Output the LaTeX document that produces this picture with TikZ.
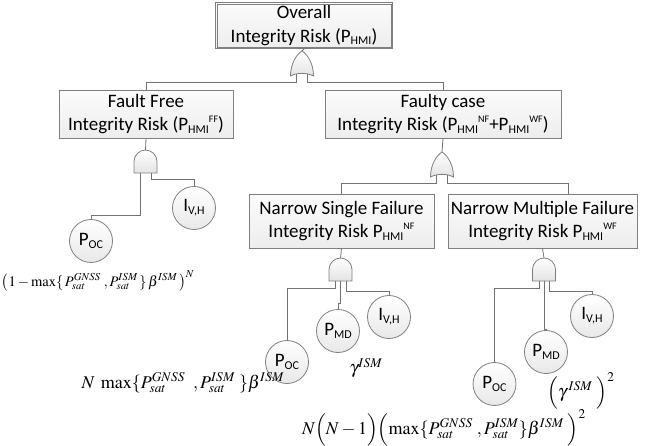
\documentclass[tikz,border=0pt]{standalone}
\usepackage{mathptmx}
\usepackage[no-math]{fontspec}
\setmainfont{Carlito}
\newcommand{\sbs}[1]{\raisebox{-0.3ex}{\fontsize{12}{12}\selectfont #1}}
\newcommand{\sps}[1]{\raisebox{0.95ex}{\fontsize{10}{10}\selectfont #1}}
\tikzset{
  gatebox/.style={draw=gray, line width=0.8pt, top color=white, bottom color=gray!22},
  andg/.pic={
    \path[gatebox] (-11.5,23) -- (-11.5,11.5) .. controls (-11.5,5) and (-6,0) .. (0,0)
      .. controls (6,0) and (11.5,5) .. (11.5,11.5) -- (11.5,23) -- cycle;
    \coordinate (-in) at (0,0);
    \coordinate (-l) at (-5,23);
    \coordinate (-m) at (0,23);
    \coordinate (-r) at (5.5,23);
  },
  org/.pic={
    \path[gatebox] (0,0) .. controls (5,3) and (11.5,12) .. (11.5,25)
      .. controls (5,21.5) and (-5,21.5) .. (-11.5,25)
      .. controls (-11.5,12) and (-5,3) .. (0,0) -- cycle;
    \coordinate (-in) at (0,0);
    \coordinate (-l) at (-5.5,22.6);
    \coordinate (-r) at (5.5,22.6);
  }
}
\begin{document}
\begin{tikzpicture}[x=1pt, y=-1pt,
  box/.style={draw=gray, line width=0.8pt, top color=gray!3, bottom color=gray!14,
    align=center, inner sep=0pt, font=\fontsize{19}{23.5}\selectfont},
  evt/.style={circle, draw=gray, line width=0.8pt, top color=white, bottom color=gray!18,
    minimum size=43pt, inner sep=0pt, font=\fontsize{19}{19}\selectfont},
  wire/.style={draw=gray!90!black, line width=0.8pt},
  eq/.style={inner sep=0pt, font=\fontsize{18}{20}\selectfont}]
  \useasboundingbox (0,0) rectangle (656,446);
  % boxes
  \coordinate (T0) at (304,25.5);
  \coordinate (F0) at (146,114);
  \coordinate (W0) at (443,114);
  \coordinate (S0) at (341.5,221);
  \coordinate (M0) at (542.5,221);
  \node[box, minimum width=177pt, minimum height=46pt] (T) at (T0)
    {Overall\\Integrity Risk (P\sbs{HMI})};
  \draw[gray, line width=0.6pt] ([xshift=2pt,yshift=-2pt]T.north west)
    rectangle ([xshift=-2pt,yshift=2pt]T.south east);
  \node[box, minimum width=174pt, minimum height=48pt] (FF) at (F0)
    {Fault Free\\Integrity Risk (P\sbs{HMI}\sps{FF})};
  \node[box, minimum width=236pt, minimum height=48pt] (FC) at (W0)
    {Faulty case\\Integrity Risk (P\sbs{HMI}\sps{NF}+P\sbs{HMI}\sps{WF})};
  \node[box, minimum width=185pt, minimum height=54pt] (NS) at (S0)
    {Narrow Single Failure\\Integrity Risk P\sbs{HMI}\sps{NF}};
  \node[box, minimum width=189pt, minimum height=54pt] (NM) at (M0)
    {Narrow Multiple Failure\\Integrity Risk P\sbs{HMI}\sps{WF}};
  % gates
  \pic (g0) at (302,51) {org};
  \pic (g1) at (442,152) {org};
  \pic (g2) at (145.5,150) {andg};
  \pic (g3) at (340.5,258) {andg};
  \pic (g4) at (544,258) {andg};
  % basic events
  \node[evt] (P1) at (91,241) {P\sbs{OC}};
  \node[evt] (I1) at (194,208) {I\sbs{V,H}};
  \node[evt] (P2) at (287,362) {P\sbs{OC}};
  \node[evt] (D2) at (338,331) {P\sbs{MD}};
  \node[evt] (I2) at (389,317) {I\sbs{V,H}};
  \node[evt] (P3) at (494.5,384) {P\sbs{OC}};
  \node[evt] (D3) at (546,352) {P\sbs{MD}};
  \node[evt] (I3) at (592,316) {I\sbs{V,H}};
  % connectors
  \coordinate (b0) at (0,82);
  \coordinate (b1) at (0,183);
  \coordinate (q) at (568,194);
  \draw[wire] (T.south) -- (g0-in);
  \draw[wire] (g0-l) -- (g0-l |- b0) -| (FF.north);
  \draw[wire] (g0-r) -- (g0-r |- b0) -| (FC.north);
  \draw[wire] (FC.south) -- (g1-in);
  \draw[wire] (g1-l) -- (g1-l |- b1) -| (NS.north);
  \draw[wire] (g1-r) -- (g1-r |- b1) -| (q);
  \draw[wire] (FF.south) -- (g2-in);
  \draw[wire] (g2-l) -- ++(0,42) -| (P1.north);
  \draw[wire] (g2-r) -- ++(0,6) -| (I1.north);
  \draw[wire] (NS.south) -- (g3-in);
  \draw[wire] (g3-l) -- ++(0,7) -| (P2.north);
  \draw[wire] (g3-m) -- ++(0,22) -| (D2.north);
  \draw[wire] (g3-r) -- ++(0,10) -| (I2.north);
  \draw[wire] (NM.south) -- (g4-in);
  \draw[wire] (g4-l) -- ++(0,7) -| (P3.north);
  \draw[wire] (g4-m) -- ++(0,48) -| (D3.north);
  \draw[wire] (g4-r) -- ++(0,10) -| (I3.north);
  % probabilities
  \node[eq, font=\fontsize{14.5}{16}\selectfont] (e1) at (98,281)
    {$\bigl(1-\max\{\,P_{sat}^{GNSS}\;,P_{sat}^{ISM}\,\}\,\beta^{ISM}\,\bigr)^{N}$};
  \node[eq] (e2) at (183,383)
    {$N\;\max\{P_{sat}^{GNSS}\;\;,P_{sat}^{ISM}\;\}\beta^{ISM}$};
  \node[eq] (e3) at (366,368) {$\gamma^{ISM}$};
  \node[eq] (e4) at (581,391) {$\Bigl(\gamma^{\,ISM}\;\Bigr)^{2}$};
  \node[eq] (e5) at (444,428)
    {$N\Bigl(N-1\Bigr)\Bigl(\max\{P_{sat}^{GNSS}\;,P_{sat}^{ISM}\}\beta^{ISM}\;\Bigr)^{2}$};
\end{tikzpicture}
\end{document}
